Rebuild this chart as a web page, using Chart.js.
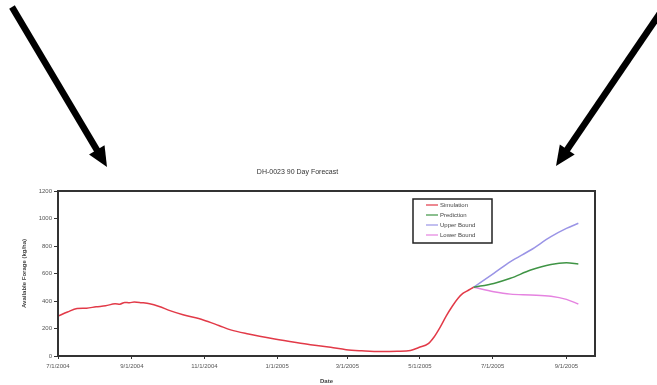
<!DOCTYPE html>
<html>
<head>
<meta charset="utf-8">
<script src="https://cdn.jsdelivr.net/npm/chart.js@4.4.0/dist/chart.umd.min.js"></script>
<style>
  body { margin: 0; background: #fff; }
  #wrap { width: 657px; height: 385px; position: relative; }
</style>
</head>
<body>
<div id="wrap"><canvas id="forecastChart"></canvas></div>
<script>
// days counted from 7/1/2004
const tickDays = [0, 62, 123, 184, 243, 304, 365, 427];
const tickLabels = ['7/1/2004', '9/1/2004', '11/1/2004', '1/1/2005', '3/1/2005', '5/1/2005', '7/1/2005', '9/1/2005'];
const yTicks = [0, 200, 400, 600, 800, 1000, 1200];

const simDays = [0, 8, 16, 24, 32, 40, 48, 52, 56, 60, 64, 70, 77, 85, 94, 105, 122, 135, 145, 160, 182, 200, 212, 229, 242, 255, 271, 285, 296, 303, 311, 316, 321, 326, 331, 336, 340, 345, 349];
const simValues = [290, 320, 345, 348, 358, 365, 380, 377, 390, 387, 393, 388, 380, 360, 330, 300, 262, 222, 190, 160, 124, 98, 82, 63, 46, 38, 32, 34, 40, 62, 90, 140, 210, 290, 360, 420, 455, 480, 500];

const fcDays = [349, 366, 380, 397, 414, 427, 437];
const predValues = [500, 528, 565, 625, 666, 678, 669];
const upperValues = [500, 601, 686, 771, 868, 928, 965];
const lowerValues = [500, 468, 450, 444, 435, 412, 378];

const toPoints = (xs, ys) => xs.map((x, i) => ({ x: x, y: ys[i] }));

const frame = {
  id: 'frame',
  afterDraw(chart) {
    const { ctx, chartArea: a } = chart;
    ctx.save();
    ctx.strokeStyle = '#333';
    ctx.lineWidth = 2;
    ctx.strokeRect(a.left, a.top, a.right - a.left, a.bottom - a.top);

    // legend box
    const bx = 413, by = 199, bw = 79, bh = 44;
    ctx.fillStyle = '#fff';
    ctx.fillRect(bx, by, bw, bh);
    ctx.lineWidth = 1.5;
    ctx.strokeStyle = '#222';
    ctx.strokeRect(bx, by, bw, bh);
    ctx.font = '6px "Liberation Sans", Arial, sans-serif';
    ctx.textBaseline = 'middle';
    chart.data.datasets.forEach((ds, i) => {
      const y = by + 6 + i * 10;
      ctx.strokeStyle = ds.borderColor;
      ctx.lineWidth = 1.2;
      ctx.beginPath();
      ctx.moveTo(bx + 13, y);
      ctx.lineTo(bx + 25, y);
      ctx.stroke();
      ctx.fillStyle = '#444';
      ctx.fillText(ds.label, bx + 27, y);
    });

    // arrows
    const arrow = (x0, y0, x1, y1) => {
      const dx = x1 - x0, dy = y1 - y0;
      const len = Math.hypot(dx, dy);
      const ux = dx / len, uy = dy / len;
      const hl = 20, hw = 9;
      const bxp = x1 - ux * hl, byp = y1 - uy * hl;
      ctx.strokeStyle = '#000';
      ctx.lineWidth = 6.5;
      ctx.lineCap = 'butt';
      ctx.beginPath();
      ctx.moveTo(x0, y0);
      ctx.lineTo(bxp + ux * 2, byp + uy * 2);
      ctx.stroke();
      ctx.fillStyle = '#000';
      ctx.beginPath();
      ctx.moveTo(x1, y1);
      ctx.lineTo(bxp - uy * hw, byp + ux * hw);
      ctx.lineTo(bxp + uy * hw, byp - ux * hw);
      ctx.closePath();
      ctx.fill();
    };
    arrow(12, 7, 107, 167);
    arrow(669, 0, 556, 166);
    ctx.restore();
  }
};

const ctx = document.getElementById('forecastChart').getContext('2d');
new Chart(ctx, {
  type: 'line',
  data: {
    datasets: [
      { label: 'Simulation', data: toPoints(simDays, simValues), borderColor: '#e23a48' },
      { label: 'Prediction', data: toPoints(fcDays, predValues), borderColor: '#3f9445' },
      { label: 'Upper Bound', data: toPoints(fcDays, upperValues), borderColor: '#9a94e6' },
      { label: 'Lower Bound', data: toPoints(fcDays, lowerValues), borderColor: '#e583e0' }
    ]
  },
  options: {
    responsive: true,
    maintainAspectRatio: false,
    animation: false,
    elements: {
      point: { radius: 0 },
      line: { borderWidth: 1.5, tension: 0.4, cubicInterpolationMode: 'monotone' }
    },
    layout: { padding: { top: 165, right: 62, left: 0, bottom: 0 } },
    plugins: {
      legend: { display: false },
      tooltip: { enabled: false },
      title: {
        display: true,
        text: 'DH-0023 90 Day Forecast',
        color: '#333',
        font: { family: 'Liberation Sans', size: 7, weight: 'normal' },
        padding: { top: 3, bottom: 14.6 }
      }
    },
    scales: {
      x: {
        type: 'linear',
        min: 0,
        max: 451,
        afterBuildTicks: scale => { scale.ticks = tickDays.map(v => ({ value: v })); },
        afterFit: scale => { scale.height = 29; },
        grid: { drawOnChartArea: false, drawTicks: true, tickLength: 3, color: '#333' },
        border: { color: '#333', width: 2 },
        ticks: {
          color: '#555',
          font: { family: 'Liberation Sans', size: 6 },
          padding: 4,
          maxRotation: 0,
          callback: value => tickLabels[tickDays.indexOf(value)]
        },
        title: {
          display: true,
          text: 'Date',
          color: '#444',
          font: { family: 'Liberation Sans', size: 6, weight: 'bold' },
          padding: { top: 2, bottom: 0 }
        }
      },
      y: {
        min: 0,
        max: 1200,
        afterBuildTicks: scale => { scale.ticks = yTicks.map(v => ({ value: v })); },
        afterFit: scale => { scale.width = 58; },
        grid: { drawOnChartArea: false, drawTicks: true, tickLength: 4, color: '#333' },
        border: { color: '#333', width: 2 },
        ticks: {
          color: '#555',
          font: { family: 'Liberation Sans', size: 6 },
          padding: 2,
          callback: value => String(value)
        },
        title: {
          display: true,
          text: 'Available Forage (kg/ha)',
          color: '#444',
          font: { family: 'Liberation Sans', size: 6, weight: 'bold' },
          padding: { top: 21, bottom: 4 }
        }
      }
    }
  },
  plugins: [frame]
});
</script>
</body>
</html>
